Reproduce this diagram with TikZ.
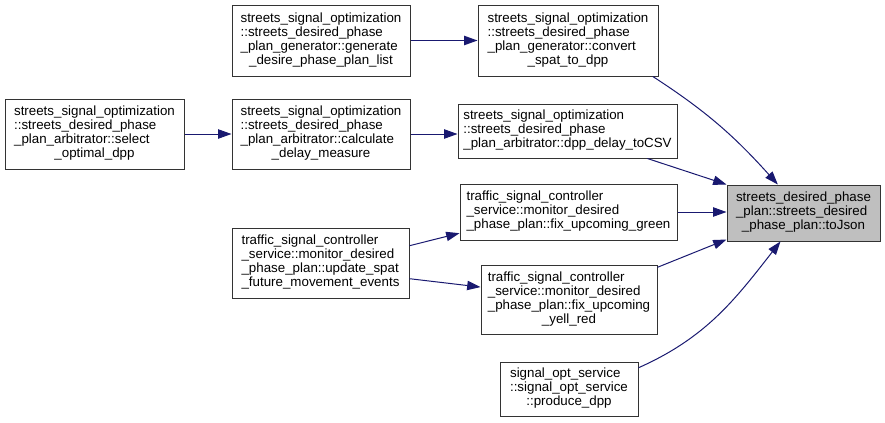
\documentclass[tikz,border=0pt]{standalone}
\usepackage{fontspec}
\setmainfont{Liberation Sans}
\usetikzlibrary{arrows.meta}
\definecolor{navy}{HTML}{191970}
\newcommand{\fnlabel}[1]{\begin{tabular}{@{}l@{}}#1\end{tabular}}
\newcommand{\lastline}[1]{\multicolumn{1}{@{}c@{}}{#1}}
\renewcommand{\arraystretch}{0.94}

\begin{document}
\begin{tikzpicture}[
    x=0.75pt, y=-0.75pt,
    font=\fontsize{10pt}{11.25pt}\selectfont,
    func/.style={
        rectangle,
        draw=black!80,
        line width=0.75pt,
        fill=white,
        inner sep=0pt
    },
    target/.style={
        func,
        fill=black!25
    },
    call/.style={
        -{Triangle[length=10pt,width=7pt]},
        line width=0.75pt,
        draw=navy
    }
]
\useasboundingbox (0,0) rectangle (885,422);

% =========================================================
% Called function
% =========================================================
\node[target, minimum width=114.75pt, minimum height=42pt] (toJson) at (803.5,213)
{\fnlabel{streets\_desired\_phase\\\_plan::streets\_desired\\\lastline{\_phase\_plan::toJson}}};

% =========================================================
% Direct callers
% =========================================================
\node[func, minimum width=135pt, minimum height=53.25pt] (convert) at (568,40.5)
{\fnlabel{streets\_signal\_optimization\\::streets\_desired\_phase\\\_plan\_generator::convert\\\lastline{\_spat\_to\_dpp}}};

\node[func, minimum width=164.25pt, minimum height=40.5pt] (csv) at (567.5,131)
{\fnlabel{streets\_signal\_optimization\\::streets\_desired\_phase\\\_plan\_arbitrator::dpp\_delay\_toCSV}};

\node[func, minimum width=162.75pt, minimum height=42pt] (green) at (568.5,212)
{\fnlabel{traffic\_signal\_controller\\\_service::monitor\_desired\\\_phase\_plan::fix\_upcoming\_green}};

\node[func, minimum width=132pt, minimum height=51.75pt] (yell) at (569,299.5)
{\fnlabel{traffic\_signal\_controller\\\_service::monitor\_desired\\\_phase\_plan::fix\_upcoming\\\lastline{\_yell\_red}}};

\node[func, minimum width=103.5pt, minimum height=40.5pt] (produce) at (569,389)
{\fnlabel{signal\_opt\_service\\::signal\_opt\_service\\\lastline{::produce\_dpp}}};

% =========================================================
% Second level callers
% =========================================================
\node[func, minimum width=133.5pt, minimum height=53.25pt] (gen) at (321,40.5)
{\fnlabel{streets\_signal\_optimization\\::streets\_desired\_phase\\\_plan\_generator::generate\\\lastline{\_desire\_phase\_plan\_list}}};

\node[func, minimum width=133.5pt, minimum height=52.5pt] (calc) at (321,134)
{\fnlabel{streets\_signal\_optimization\\::streets\_desired\_phase\\\_plan\_arbitrator::calculate\\\lastline{\_delay\_measure}}};

\node[func, minimum width=132.75pt, minimum height=52.5pt] (update) at (320.5,263)
{\fnlabel{traffic\_signal\_controller\\\_service::monitor\_desired\\\_phase\_plan::update\_spat\\\lastline{\_future\_movement\_events}}};

% =========================================================
% Third level caller
% =========================================================
\node[func, minimum width=134.25pt, minimum height=52.5pt] (select) at (94.5,134)
{\fnlabel{streets\_signal\_optimization\\::streets\_desired\_phase\\\_plan\_arbitrator::select\\\lastline{\_optimal\_dpp}}};

% =========================================================
% Call edges
% =========================================================
\draw[call] (gen.east) -- (gen.east -| convert.west);
\draw[call] (convert.-23) to[out=-33, in=132] (toJson.132);

\draw[call] (select.east) -- (calc.west);
\draw[call] (calc.east) -- (calc.east -| csv.west);
\draw[call] (csv.-19) -- (toJson.north west);

\draw[call] (green.east) -- (green.east -| toJson.west);
\draw[call] (update.11) -- (green.191);
\draw[call] (update.-10) -- (yell.172);
\draw[call] (yell.20) -- (toJson.199);

\draw[call] (produce.17) to[out=24, in=-128] (toJson.231);

\end{tikzpicture}
\end{document}
